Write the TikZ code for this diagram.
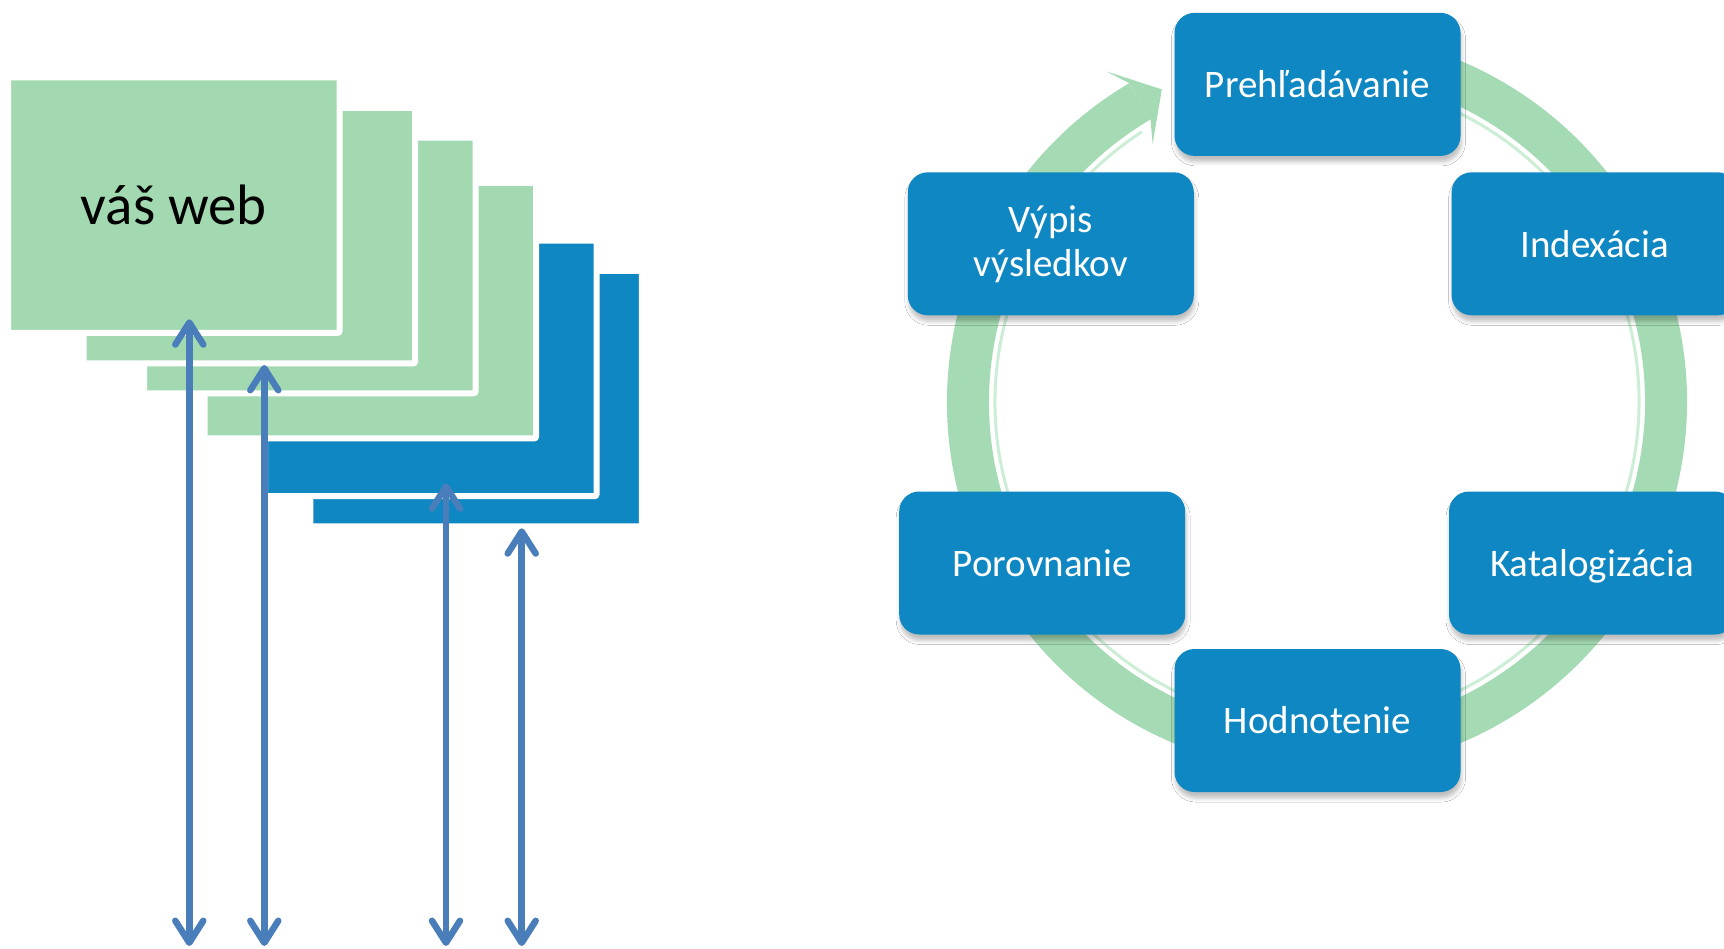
\documentclass[tikz,border=0pt]{standalone}
\usepackage{fontspec}
\setmainfont{Carlito}
\usetikzlibrary{arrows.meta,shadows.blur,calc}
\definecolor{pgreen}{RGB}{163,217,177}
\definecolor{pblue}{RGB}{14,135,194}
\definecolor{arrblue}{RGB}{74,126,187}
\definecolor{ringgreen}{RGB}{164,219,180}
\definecolor{rimgreen}{RGB}{205,238,214}
\begin{document}
\begin{tikzpicture}[x=1pt,y=1pt,
  layer/.style={draw=white, line width=6pt, rounded corners=2pt,
    minimum width=331.5pt, minimum height=255.6pt, inner sep=0pt},
  greenlayer/.style={layer, fill=pgreen},
  bluelayer/.style={layer, fill=pblue},
  cyc/.style={fill=pblue, rounded corners=20pt, minimum width=286pt,
    minimum height=143pt, text=white, align=center, inner sep=0pt,
    font=\fontsize{39}{44}\selectfont,
    blur shadow={shadow xshift=1pt, shadow yshift=-6pt, shadow blur radius=4pt, shadow opacity=25}},
  darr/.style={draw=arrblue, line width=6.5pt,
    {Straight Barb[length=22pt,width=28pt,round]}-{Straight Barb[length=22pt,width=28pt,round]}}
]
\clip (0,0) rectangle (1724,-949);
\fill[white] (0,0) rectangle (1724,-949);

% stacked pages
\node[bluelayer]  (l6) at (476.15,-398.6) {};
\node[bluelayer]  (l5) at (430.75,-368.4) {};
\node[greenlayer] (l4) at (370.35,-310.6) {};
\node[greenlayer] (l3) at (309.85,-265.5) {};
\node[greenlayer] (l2) at (249.35,-235.6) {};
\node[greenlayer, font=\fontsize{57}{62}\selectfont] (l1) at (173.75,-205.1) {váš web};

% double arrows
\coordinate (a1t) at (189.3,-319.3); \coordinate (a1b) at (189.3,-946);
\coordinate (a2t) at (264.3,-365);   \coordinate (a2b) at (264.3,-946);
\coordinate (a3t) at (446,-483.3);   \coordinate (a3b) at (446,-946);
\coordinate (a4t) at (521.7,-528.3); \coordinate (a4b) at (521.7,-946);
\draw[darr] (a1b) -- (a1t);
\draw[darr] (a2b) -- (a2t);
\draw[darr] (a3b) -- (a3t);
\draw[darr] (a4b) -- (a4t);

% cycle ring
\coordinate (C) at (1317,-402);
\draw[rimgreen, line width=3pt] ($(C)+(80:322)$) arc[start angle=80, end angle=-237, radius=322];
\draw[ringgreen, line width=42pt] ($(C)+(80:349)$) arc[start angle=80, end angle=-239.5, radius=349];
\fill[ringgreen] ($(C)+(120.5:370)$) -- ($(C)+(122.5:392)$) -- ($(C)+(116.4:349)$)
   -- ($(C)+(122.5:306)$) -- ($(C)+(120.5:328)$) -- cycle;

% cycle boxes
\node[cyc] (p1) at (1317.5,-84.4) {Prehľadávanie};
\node[cyc] (p2) at (1594.6,-243.8) {Indexácia};
\node[cyc, text depth=0pt] (p3) at (1592,-563) {Katalogizácia};
\node[cyc] (p4) at (1317.5,-720.5) {Hodnotenie};
\node[cyc] (p5) at (1042.2,-563) {Porovnanie};
\node[cyc] (p6) at (1050.8,-243.8) {Výpis\\výsledkov};
\end{tikzpicture}
\end{document}
